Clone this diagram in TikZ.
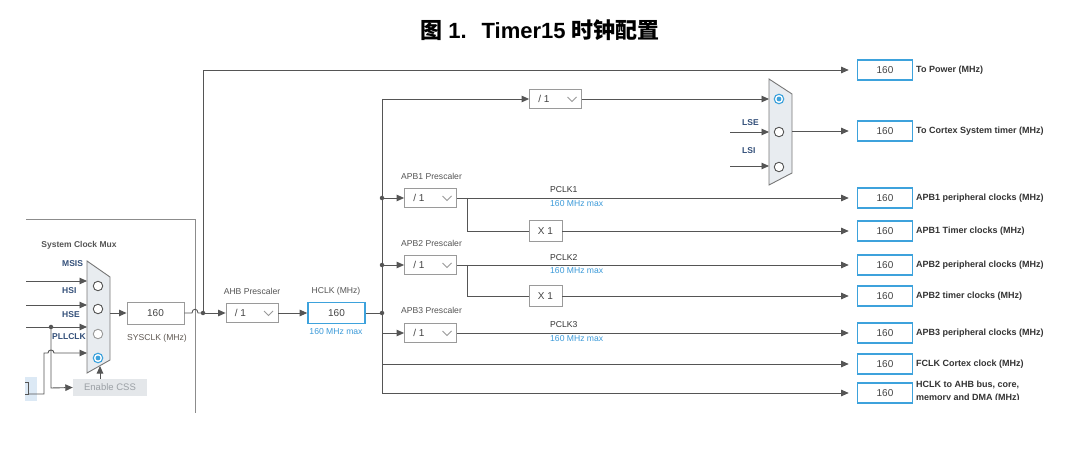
\documentclass[tikz,border=0pt]{standalone}
\usepackage{fontspec}
\setmainfont{Liberation Sans}
\newfontfamily\cjk{Noto Sans CJK SC}
\usetikzlibrary{arrows.meta,calc}
\definecolor{linec}{HTML}{555555}
\definecolor{boxc}{HTML}{9A9A9A}
\definecolor{bluec}{HTML}{3DA2DC}
\definecolor{graytext}{HTML}{555555}
\definecolor{valtext}{HTML}{444444}
\definecolor{outtext}{HTML}{333333}
\definecolor{navy}{HTML}{34507A}
\definecolor{bluetext}{HTML}{3B9AD9}
\definecolor{muxfill}{HTML}{E8ECF0}
\definecolor{muxborder}{HTML}{777777}
\definecolor{cssfill}{HTML}{E4E7EA}
\definecolor{csstext}{HTML}{9BA0A5}
\definecolor{frame}{HTML}{8C8C8C}
\definecolor{lightblue}{HTML}{DCE9F5}
\begin{document}
\begin{tikzpicture}[x=1pt,y=-1pt,
  ln/.style={draw=linec, line width=0.9pt},
  arr/.style={ln, -{Triangle[length=7.5pt,width=6.5pt]}},
  bdot/.style={circle, fill=linec, inner sep=0pt, minimum size=4.5pt},
  prebox/.style={draw=boxc, fill=white, line width=0.8pt, minimum width=52pt, minimum height=19pt, inner sep=0pt},
  valbox/.style={draw=boxc, fill=white, line width=0.9pt, minimum width=57pt, minimum height=22pt, inner sep=0pt, font=\fontsize{10}{12}\selectfont, text=valtext},
  xbox/.style={draw=boxc, fill=white, line width=0.8pt, minimum width=33pt, minimum height=21pt, inner sep=0pt, font=\fontsize{10}{12}\selectfont, text=valtext},
  outbox/.style={draw=bluec, fill=white, line width=1.6pt, minimum width=55pt, minimum height=20pt, inner sep=0pt, font=\fontsize{10}{12}\selectfont, text=valtext},
  outlbl/.style={anchor=west, font=\fontsize{9}{10}\selectfont\bfseries, text=outtext, inner sep=0pt},
  lbl/.style={font=\fontsize{8.6}{10}\selectfont, text=graytext, inner sep=0pt},
  clklbl/.style={font=\fontsize{8.6}{10}\selectfont, text=outtext, inner sep=0pt, anchor=west},
  maxlbl/.style={font=\fontsize{8.6}{10}\selectfont, text=bluetext, inner sep=0pt, anchor=west},
  srclbl/.style={font=\fontsize{8.5}{10}\selectfont\bfseries, text=navy, inner sep=0pt, anchor=west},
  radio/.style={circle, draw=linec, fill=white, line width=0.9pt, minimum size=9.5pt, inner sep=0pt},
  radiodim/.style={radio, draw=boxc},
  radiosel/.style={radio, draw=bluec, line width=1.1pt, path picture={\fill[bluec] (path picture bounding box.center) circle (2.4pt);}},
  mux/.style={draw=muxborder, fill=muxfill, line width=0.9pt},
  presc/.pic={
    \node[prebox] (-box) at (0,0) {};
    \node[font=\fontsize{10}{12}\selectfont, text=valtext, inner sep=0pt] (-txt) at (-11.5,0) {/ 1};
    \draw[draw=boxc, line width=0.8pt] (12,-2) -- (16.5,2.5) -- (21,-2);
  }
]
\fill[white] (0,0) rectangle (1080,457);
\useasboundingbox (0,0) rectangle (1080,457);

% title
\node[font=\fontsize{22}{26}\selectfont\bfseries, text=black] (title) at (540,30)
  {{\cjk 图} 1.\hspace{15pt}Timer15 {\cjk 时钟配置}};

% left frame
\draw[draw=frame, line width=0.8pt] (26,219) -- (195,219) -- (195,413);
\fill[lightblue] (25,377) rectangle (37,401);
\draw[draw=linec, line width=0.7pt] (25,382) -- (28,382) -- (28,394) -- (25,394);
\node[font=\fontsize{8.5}{10}\selectfont\bfseries, text=graytext] (muxtitle) at (79,245) {System Clock Mux};

% system clock mux
\draw[mux] (87,261) -- (110,277) -- (110,360) -- (87,373) -- cycle;
\node[radio] (r1a) at (98,286) {};
\node[radio] (r1b) at (98,309) {};
\node[radiodim] (r1c) at (98,334) {};
\node[radiosel] (r1d) at (98,358) {};
\node[srclbl] (lmsis) at (62,264) {MSIS};
\node[srclbl] (lhsi) at (62,291) {HSI};
\node[srclbl] (lhse) at (62,315) {HSE};
\node[srclbl] (lpll) at (52,337) {PLLCLK};
\coordinate (in1s) at (26,281); \coordinate (in1e) at (87,281);
\coordinate (in2s) at (26,305); \coordinate (in2e) at (87,305);
\coordinate (in3s) at (26,327); \coordinate (in3e) at (87,327);
\coordinate (in4s) at (28,394); \coordinate (in4e) at (87,353);
\draw[arr] (in1s) -- (in1e);
\draw[arr] (in2s) -- (in2e);
\draw[arr] (in3s) -- (in3e);
\draw[arr] (in4s) -- (44,394) -- (44,353) -- (48,353) .. controls (48,349) and (54,349) .. (54,353) -- (in4e);
\node[bdot] (cssj) at (51,327) {};
\node[fill=cssfill, minimum width=74pt, minimum height=17pt, inner sep=0pt, font=\fontsize{9.5}{11}\selectfont, text=csstext] (css) at (110,387.5) {Enable CSS};
\draw[arr] (cssj.center) -- (51,388) -- (css.west);
\draw[arr] ([xshift=-10pt]css.north) -- (100,366);

% SYSCLK
\node[valbox] (sysclk) at (155.5,313) {160};
\node[lbl, text=graytext!90!brown] (syslbl) at (157,338) {SYSCLK (MHz)};
\coordinate (muxout) at (110,313);
\draw[arr] (muxout) -- (sysclk.west);
\node[bdot] (sysj) at (203,313) {};
\coordinate (topL) at (203,70);
\draw[ln] (sysclk.east) -- (192,313) .. controls (192,308) and (198,308) .. (198,313) -- (sysj.center);
\draw[ln] (sysj.center) -- (topL);

% AHB + HCLK
\pic (ahb) at (252,313) {presc};
\node[lbl] (ahblbl) at (252,291) {AHB Prescaler};
\node[outbox, minimum width=57pt, minimum height=21pt] (hclk) at (336.5,313) {160};
\node[lbl] (hclklbl) at (336,291) {HCLK (MHz)};
\node[lbl, text=bluetext] (hclkmax) at (336,332) {160 MHz max};
\draw[arr] (sysj.center) -- (ahb-box.west);
\draw[arr] (ahb-box.east) -- (hclk.west);

% bus
\node[bdot] (busj) at (382,313) {};
\node[bdot] (b1) at (382,198) {};
\node[bdot] (b2) at (382,265) {};
\coordinate (b3) at (382,333);
\coordinate (b4) at (382,364);
\coordinate (busT) at (382,99);
\coordinate (busB) at (382,393);
\draw[ln] (hclk.east) -- (busj.center);
\draw[ln] (busT) -- (busB);

% outputs
\node[outbox] (oPow) at (885,70) {160};
\node[outlbl] (oPowL) at (916,70) {To Power (MHz)};
\node[outbox] (oCor) at (885,131) {160};
\node[outlbl] (oCorL) at (916,131) {To Cortex System timer (MHz)};
\node[outbox] (oA1) at (885,198) {160};
\node[outlbl] (oA1L) at (916,198) {APB1 peripheral clocks (MHz)};
\node[outbox] (oA1t) at (885,231) {160};
\node[outlbl] (oA1tL) at (916,231) {APB1 Timer clocks (MHz)};
\node[outbox] (oA2) at (885,265) {160};
\node[outlbl] (oA2L) at (916,265) {APB2 peripheral clocks (MHz)};
\node[outbox] (oA2t) at (885,296) {160};
\node[outlbl] (oA2tL) at (916,296) {APB2 timer clocks (MHz)};
\node[outbox] (oA3) at (885,333) {160};
\node[outlbl] (oA3L) at (916,333) {APB3 peripheral clocks (MHz)};
\node[outbox] (oF) at (885,364) {160};
\node[outlbl] (oFL) at (916,364) {FCLK Cortex clock (MHz)};
\node[outbox] (oH) at (885,393) {160};
\begin{scope}
\clip (914,376) rectangle (1080,399.5);
\node[outlbl, anchor=north west, align=left, font=\fontsize{9}{12.5}\selectfont\bfseries] (oHL) at (916,381) {HCLK to AHB bus, core,\\memory and DMA (MHz)};
\end{scope}

\draw[arr] (topL) -- ([xshift=-8pt]oPow.west);

% /1 and cortex mux
\pic (div) at (555.5,99) {presc};
\draw[arr] (busT) -- (div-box.west);
\draw[mux] (769,79) -- (792,94) -- (792,173) -- (769,185) -- cycle;
\node[radiosel] (r2a) at (779,99) {};
\node[radio] (r2b) at (779,132) {};
\node[radio] (r2c) at (779,167) {};
\coordinate (m2a) at (769,99);
\coordinate (m2b) at (769,132);
\coordinate (m2c) at (769,166);
\coordinate (lseS) at (730,132);
\coordinate (lsiS) at (730,166);
\coordinate (m2out) at (792,131);
\draw[arr] (div-box.east) -- (m2a);
\draw[arr] (lseS) -- (m2b);
\draw[arr] (lsiS) -- (m2c);
\node[srclbl] (llse) at (742,123) {LSE};
\node[srclbl] (llsi) at (742,151) {LSI};
\draw[arr] (m2out) -- ([xshift=-8pt]oCor.west);

% APB1
\pic (apb1) at (430.5,198) {presc};
\node[lbl, anchor=west] (apb1lbl) at (401,176) {APB1 Prescaler};
\draw[arr] (b1.center) -- (apb1-box.west);
\draw[arr] (apb1-box.east) -- ([xshift=-8pt]oA1.west);
\node[xbox] (x1a) at (545.5,231) {X 1};
\coordinate (br1) at (467,198);
\draw[ln] (br1) |- (x1a.west);
\draw[arr] (x1a.east) -- ([xshift=-8pt]oA1t.west);
\node[clklbl] (pclk1) at (550,190) {PCLK1};
\node[maxlbl] (max1) at (550,204) {160 MHz max};

% APB2
\pic (apb2) at (430.5,265) {presc};
\node[lbl, anchor=west] (apb2lbl) at (401,243) {APB2 Prescaler};
\draw[arr] (b2.center) -- (apb2-box.west);
\draw[arr] (apb2-box.east) -- ([xshift=-8pt]oA2.west);
\node[xbox] (x1b) at (545.5,296) {X 1};
\coordinate (br2) at (467,265);
\draw[ln] (br2) |- (x1b.west);
\draw[arr] (x1b.east) -- ([xshift=-8pt]oA2t.west);
\node[clklbl] (pclk2) at (550,258) {PCLK2};
\node[maxlbl] (max2) at (550,271) {160 MHz max};

% APB3
\pic (apb3) at (430.5,333) {presc};
\node[lbl, anchor=west] (apb3lbl) at (401,310) {APB3 Prescaler};
\draw[arr] (b3) -- (apb3-box.west);
\draw[arr] (apb3-box.east) -- ([xshift=-8pt]oA3.west);
\node[clklbl] (pclk3) at (550,325) {PCLK3};
\node[maxlbl] (max3) at (550,339) {160 MHz max};

% FCLK, HCLK
\draw[arr] (b4) -- ([xshift=-8pt]oF.west);
\draw[arr] (busB) -- ([xshift=-8pt]oH.west);
\end{tikzpicture}
\end{document}
